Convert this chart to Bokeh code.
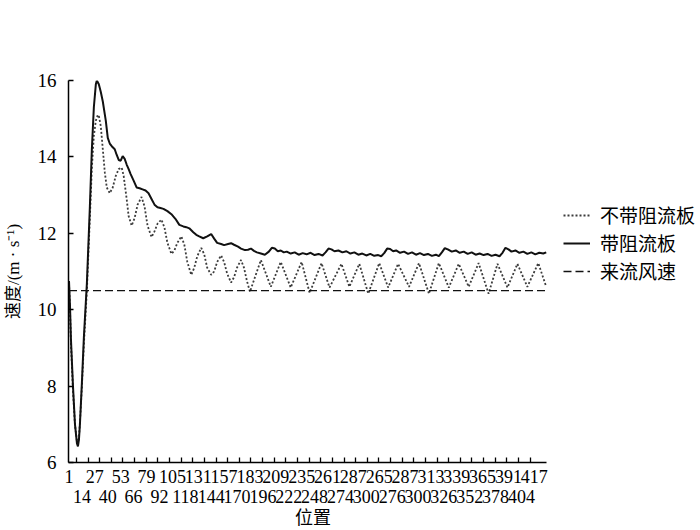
from bokeh.plotting import figure
from bokeh.models import FixedTicker, LinearAxis, Legend, LegendItem, Range1d, Title
from bokeh.embed import file_html
from bokeh.resources import INLINE

# ---------------- data ----------------
# 带阻流板 (with spoiler) : (position, speed)
with_x = [1, 2, 3, 5, 7, 9, 10, 11, 12, 14, 16, 19, 22, 24, 26, 28, 29, 31, 33, 35, 38, 40,
          42, 44, 47, 49, 51, 53, 55, 57, 59, 61, 63, 66, 69, 72, 75, 78, 81, 84, 87, 90, 93,
          96, 100, 104, 108, 112, 116, 119, 122, 126, 129, 132, 136, 140, 144, 147, 150, 154,
          157, 161, 164, 167, 171, 174, 178, 181, 184, 187,
          190, 194, 198, 202, 205, 208, 211, 214, 217, 220, 224, 228, 232, 236, 240, 244,
          248, 252, 256, 259, 262, 265, 268, 272, 276, 280, 284, 288, 292, 296, 300, 304, 308,
          312, 315, 318, 321, 324, 327, 330, 334, 338, 342, 346, 350, 354, 358, 362, 366, 370,
          373, 376, 379, 382, 386, 390, 394, 398, 402, 406, 410, 414, 418, 422, 426, 430, 434,
          437, 440, 443, 446, 450, 454, 458, 462, 466, 470, 474, 478, 481]
with_y = [10.75, 10.1, 9.2, 8.0, 7.0, 6.5, 6.42, 6.6, 7.0, 8.1, 9.3, 10.7, 12.7, 14.2, 15.3, 15.9,
          16.0, 15.9, 15.7, 15.45, 14.95, 14.5,
          14.35, 14.28, 14.2, 14.05, 13.92, 13.9, 14.02, 13.95, 13.8, 13.68, 13.55, 13.38, 13.2,
          13.18, 13.15, 13.12, 13.05, 12.9, 12.75, 12.68, 12.66,
          12.64, 12.58, 12.5, 12.38, 12.22, 12.18, 12.16, 12.13, 12.03, 11.96, 11.92, 11.87,
          11.92, 11.98, 11.86, 11.75, 11.72,
          11.69, 11.72, 11.74, 11.7, 11.65, 11.6, 11.56, 11.57, 11.6, 11.54,
          11.5, 11.47, 11.44, 11.52, 11.62, 11.6, 11.53, 11.55, 11.5, 11.52, 11.47, 11.5,
          11.44, 11.48, 11.45, 11.49,
          11.43, 11.46, 11.42, 11.5, 11.6, 11.58, 11.53, 11.55, 11.5, 11.53, 11.47, 11.5,
          11.44, 11.47, 11.42, 11.46, 11.41,
          11.43, 11.4, 11.48, 11.6, 11.59, 11.53, 11.55, 11.49, 11.52, 11.46, 11.5, 11.44,
          11.48, 11.43, 11.46, 11.41, 11.44,
          11.4, 11.5, 11.61, 11.58, 11.52, 11.55, 11.49, 11.52, 11.46, 11.5, 11.44, 11.47,
          11.43, 11.46, 11.41, 11.44, 11.4,
          11.49, 11.62, 11.58, 11.52, 11.55, 11.49, 11.52, 11.46, 11.5, 11.45, 11.49, 11.47,
          11.5]

# 不带阻流板 (without spoiler)
without_x = [1, 2, 3, 5, 7, 9, 10, 11, 12, 14, 16, 19, 22, 24, 26, 28, 30, 31, 33, 35, 37, 39,
             42, 45, 48, 51, 54, 56, 59, 61, 64, 67, 70, 74, 77, 80, 84, 87, 90, 94, 97, 100,
             104, 107, 110, 114, 117, 120, 124, 127, 130, 134, 137, 140, 144, 147, 150, 154,
             157, 160, 164, 167, 170, 174, 177, 180, 183,
             194, 204, 214, 224, 235, 243, 255, 263, 275, 283, 293, 302, 313, 322, 332, 343,
             353, 363, 373, 383, 393, 403, 413, 423, 432, 442, 452, 462, 473, 481]
without_y = [10.7, 10.0, 9.1, 7.9, 7.0, 6.55, 6.5, 6.65, 7.05, 8.0, 9.1, 10.5, 12.4, 13.7, 14.55,
             14.95, 15.1, 15.08, 14.8, 14.2, 13.6, 13.2,
             13.05, 13.2, 13.5, 13.68, 13.72, 13.5, 12.9, 12.45, 12.2, 12.4, 12.75, 12.95, 12.7,
             12.2, 11.9, 12.05, 12.25, 12.36, 12.15, 11.75,
             11.46, 11.55, 11.75, 11.92, 11.7, 11.25, 10.91, 11.1, 11.4, 11.62, 11.45, 11.1,
             10.91, 11.0, 11.25, 11.42,
             11.25, 10.95, 10.71, 10.85, 11.1, 11.3, 11.1, 10.75, 10.47,
             11.3, 10.6, 11.25, 10.58, 11.25, 10.44, 11.22, 10.58, 11.2, 10.6, 11.2, 10.42,
             11.22, 10.58, 11.2, 10.6,
             11.22, 10.42, 11.22, 10.58, 11.2, 10.6, 11.22, 10.42, 11.2, 10.58, 11.2, 10.6,
             11.22, 10.6]

# 来流风速 (incoming wind speed)
inflow_speed = 10.5

# category tick labels (Excel category names, every 13th category)
tick_labels = ["1", "14", "27", "40", "53", "66", "79", "92", "105", "118", "131", "144",
               "157", "170", "183", "196", "209", "222", "235", "248", "261", "274", "287",
               "300", "265", "276", "287", "300", "313", "326", "339", "352", "365", "378",
               "391", "404", "417"]
n_categories = 481
y_ticks = [6, 8, 10, 12, 14, 16]

# ---------------- layout / styling ----------------
SERIF = "'Liberation Serif', 'Noto Sans CJK SC'"
W, H = 700, 530
LEFT, TOP, BOTTOM = 67, 80, 68
AXIS_PX = 479                      # drawn length of the category axis
frame_px = W - LEFT                # frame runs to the right edge so the legend is not clipped
x_end = 0.5 + n_categories * frame_px / AXIS_PX

p = figure(width=W, height=H, x_range=Range1d(0.5, x_end), y_range=Range1d(6, 16),
           output_backend="svg", toolbar_location=None,
           min_border_left=LEFT, min_border_right=0, min_border_top=TOP,
           min_border_bottom=BOTTOM)
p.outline_line_color = None
p.grid.visible = False
p.background_fill_color = "white"
p.border_fill_color = "white"

r_without = p.line(without_x, without_y, line_color="#3c3c3c", line_width=1.8, line_dash="2 2")
r_with = p.line(with_x, with_y, line_color="#111111", line_width=2.0)
r_inflow = p.line([with_x[0], with_x[-1]], [inflow_speed, inflow_speed], line_color="#111111",
                  line_width=1.4, line_dash="8 4")

# y axis
ya = p.yaxis[0]
ya.ticker = FixedTicker(ticks=y_ticks)
ya.major_tick_in = 5
ya.major_tick_out = 0
ya.minor_tick_line_color = None
ya.axis_line_width = 1.5
ya.axis_line_color = "black"
ya.major_tick_line_width = 1.5
ya.major_label_text_font = SERIF
ya.major_label_text_font_size = "19px"
ya.major_label_text_color = "black"
ya.major_label_standoff = 12
ya.axis_label = "速度/(m · s⁻¹)"
ya.axis_label_text_font = SERIF
ya.axis_label_text_font_style = "normal"
ya.axis_label_text_font_size = "17px"
ya.axis_label_text_color = "black"
ya.axis_label_standoff = 12

# x axis: tick marks (minor) + top row of labels
label_pos = [1 + 13 * k for k in range(len(tick_labels))]
top_pos = label_pos[0::2]
bot_pos = label_pos[1::2]
tick_marks = [8.5 + 11.7 * k for k in range(40)]

xa = p.xaxis[0]
xa.bounds = (0.5, n_categories + 0.5)
xa.ticker = FixedTicker(ticks=top_pos, minor_ticks=tick_marks)
xa.major_label_overrides = {pos: lab for pos, lab in zip(label_pos, tick_labels) if pos in top_pos}
xa.major_tick_in = 0
xa.major_tick_out = 0
xa.minor_tick_in = 5
xa.minor_tick_out = 0
xa.minor_tick_line_width = 1.3
xa.minor_tick_line_color = "black"
xa.axis_line_width = 1.5
xa.axis_line_color = "black"
xa.major_label_text_font = SERIF
xa.major_label_text_font_size = "18px"
xa.major_label_text_color = "black"
xa.major_label_standoff = 7

xb = LinearAxis(ticker=FixedTicker(ticks=bot_pos, minor_ticks=[]))
xb.bounds = (0.5, n_categories + 0.5)
xb.major_label_overrides = {pos: lab for pos, lab in zip(label_pos, tick_labels) if pos in bot_pos}
xb.axis_line_color = None
xb.major_tick_line_color = None
xb.minor_tick_line_color = None
xb.major_tick_in = 0
xb.major_tick_out = 0
xb.major_label_standoff = 4
xb.major_label_text_font = SERIF
xb.major_label_text_font_size = "18px"
xb.major_label_text_color = "black"
p.add_layout(xb, "below")

# x-axis title, centred under the drawn axis (not the whole frame)
x_title = Title(text="位置", align="left", offset=(AXIS_PX - 36) / 2 + 5, standoff=0,
                text_font=SERIF, text_font_size="18px", text_font_style="normal",
                text_color="black")
p.add_layout(x_title, "below")

legend = Legend(items=[LegendItem(label="不带阻流板", renderers=[r_without]),
                       LegendItem(label="带阻流板", renderers=[r_with]),
                       LegendItem(label="来流风速", renderers=[r_inflow])],
                location=(495, 178), glyph_width=27, glyph_height=20, label_standoff=10,
                spacing=1, padding=0, margin=0, border_line_color=None,
                background_fill_alpha=0, label_text_font=SERIF, label_text_font_size="19px",
                label_text_color="black")
p.add_layout(legend, "center")

open("out.html", "w").write(file_html(p, INLINE))
